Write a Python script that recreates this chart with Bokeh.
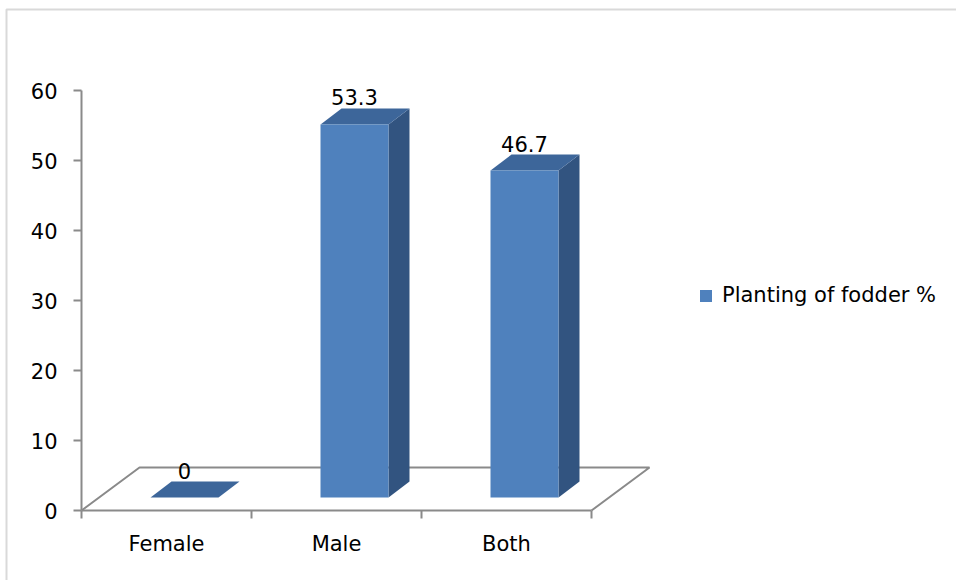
from bokeh.plotting import figure
from bokeh.models import Range1d, FixedTicker, Legend, LegendItem, BoxAnnotation
from bokeh.core.properties import value
from bokeh.embed import file_html
from bokeh.resources import INLINE

# ---- data ----
categories = ["Female", "Male", "Both"]
values = [0.0, 53.3, 46.7]
value_labels = ["0", "53.3", "46.7"]
y_ticks = [0, 10, 20, 30, 40, 50, 60]
series_name = "Planting of fodder %"

# ---- layout / style constants ----
W, H = 956, 580
X0_PX, Y0_PX = 81, 510      # pixel position of the data origin
PX_X, PX_Y = 170.0, 7.0     # pixels per category / per value unit
FONT = "DejaVu Sans"
FS = "21px"
AXIS_COLOR = "#8a8a8a"
FRONT, TOP, SIDE = "#4f81bd", "#3d669a", "#325480"

FLOOR_DX, FLOOR_DY = 58 / PX_X, 43 / PX_Y      # floor depth
BAR_SHIFT = 18 / PX_X                          # bar front plane shift
BAR_BASE = 13 / PX_Y
BAR_HALF = 34 / PX_X
BAR_DX, BAR_DY = 21 / PX_X, 16 / PX_Y           # bar depth

n = len(categories)

p = figure(width=W, height=H, output_backend="svg", toolbar_location=None,
           x_range=Range1d(-X0_PX / PX_X, (W - X0_PX) / PX_X),
           y_range=Range1d(-(H - Y0_PX) / PX_Y, Y0_PX / PX_Y),
           min_border=0, min_border_left=0, min_border_right=0,
           min_border_top=0, min_border_bottom=0)
p.grid.visible = False
p.outline_line_color = None
p.background_fill_color = "white"
p.border_fill_color = "white"

# ---- axes ----
xa = p.xaxis[0]
xa.fixed_location = 0
xa.bounds = (0, n)
xa.ticker = FixedTicker(ticks=[i + 0.5 for i in range(n)], minor_ticks=list(range(n + 1)))
xa.major_label_overrides = {i + 0.5: c for i, c in enumerate(categories)}
xa.major_tick_out = 0
xa.major_tick_in = 0
xa.minor_tick_out = 8
xa.minor_tick_in = 0
xa.minor_tick_line_color = AXIS_COLOR
xa.minor_tick_line_width = 2
xa.axis_line_color = AXIS_COLOR
xa.axis_line_width = 2
xa.major_label_text_font = FONT
xa.major_label_text_font_size = FS
xa.major_label_text_color = "black"
xa.major_label_standoff = 13

ya = p.yaxis[0]
ya.fixed_location = 0
ya.bounds = (y_ticks[0], y_ticks[-1])
ya.ticker = FixedTicker(ticks=y_ticks, minor_ticks=[])
ya.major_tick_out = 8
ya.major_tick_in = 0
ya.major_tick_line_color = AXIS_COLOR
ya.major_tick_line_width = 2
ya.minor_tick_line_color = None
ya.axis_line_color = AXIS_COLOR
ya.axis_line_width = 2
ya.major_label_text_font = FONT
ya.major_label_text_font_size = FS
ya.major_label_text_color = "black"
ya.major_label_standoff = 16

# ---- floor (3-D base) ----
p.line(x=[0, FLOOR_DX, n + FLOOR_DX, n], y=[0, FLOOR_DY, FLOOR_DY, 0],
       line_color=AXIS_COLOR, line_width=2)

# ---- bars ----
fx, fy, tx, ty, sx, sy, lx, ly = [], [], [], [], [], [], [], []
for i, v in enumerate(values):
    cx = i + 0.5 + BAR_SHIFT
    l, r = cx - BAR_HALF, cx + BAR_HALF
    b, t = BAR_BASE, BAR_BASE + v
    fx.append([l, r, r, l]); fy.append([b, b, t, t])
    tx.append([l, r, r + BAR_DX, l + BAR_DX]); ty.append([t, t, t + BAR_DY, t + BAR_DY])
    sx.append([r, r + BAR_DX, r + BAR_DX, r]); sy.append([b, b + BAR_DY, t + BAR_DY, t])
    lx.append(cx); ly.append(t + BAR_DY)

p.patches(xs=sx, ys=sy, fill_color=SIDE, line_color=None)
p.patches(xs=tx, ys=ty, fill_color=TOP, line_color=None)
front = p.patches(xs=fx, ys=fy, fill_color=FRONT, line_color=None)

p.text(x=lx, y=ly, text=value_labels, text_align="center", text_baseline="middle",
       y_offset=-11, text_font=value(FONT), text_font_size=FS, text_color="black")

# ---- legend ----
legend = Legend(items=[LegendItem(label=series_name, renderers=[front])],
                location=(698, H - 307), glyph_width=15, glyph_height=15,
                label_standoff=9, padding=0, margin=0, border_line_color=None,
                background_fill_alpha=0, label_text_font=FONT, label_text_font_size=FS,
                label_text_color="black")
p.add_layout(legend)

# ---- outer chart border ----
p.add_layout(BoxAnnotation(left=6, right=3000, top=9, bottom=3000,
                           left_units="canvas", right_units="canvas",
                           top_units="canvas", bottom_units="canvas",
                           fill_color=None, fill_alpha=0, line_color="#808080",
                           line_width=2))

open("out.html", "w").write(file_html(p, INLINE))
